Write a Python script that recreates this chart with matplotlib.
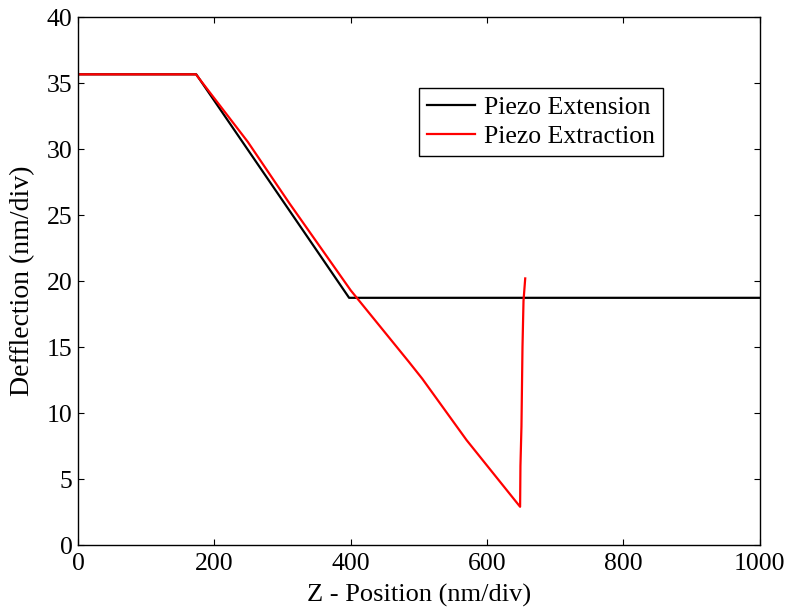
import matplotlib.pyplot as plt

plt.rcParams['font.family'] = ['Liberation Serif', 'DejaVu Serif']

# Piezo extension (approach) curve
ext_z = [0, 173.5, 397.7, 1000]
ext_defl = [35.66, 35.66, 18.73, 18.73]

# Piezo extraction (retract) curve
ret_z = [0, 173, 249, 310, 400, 485, 505, 570, 648.5, 649, 650.5, 652, 653.5, 656]
ret_defl = [35.66, 35.66, 30.55, 25.9, 19.3, 13.9, 12.6, 7.95, 2.9, 6.0, 9.0, 15.0, 18.5, 20.2]

fig = plt.figure(figsize=(7.9, 6.09), dpi=100)
ax = fig.add_axes([0.0987, 0.105, 0.863, 0.867])

ax.plot(ext_z, ext_defl, color='black', lw=1.6, label='Piezo Extension')
ax.plot(ret_z, ret_defl, color='red', lw=1.6, label='Piezo Extraction')

ax.set_xlim(0, 1000)
ax.set_ylim(0, 40)
ax.set_xticks(range(0, 1001, 200))
ax.set_yticks(range(0, 41, 5))
ax.tick_params(direction='in', length=4, width=0.8, labelsize=18.5,
               top=True, right=True)
ax.tick_params(axis='x', pad=6)
ax.tick_params(axis='y', pad=4)
for s in ax.spines.values():
    s.set_linewidth(1.0)

ax.set_xlabel('Z - Position (nm/div)', fontsize=19, labelpad=6)
ax.set_ylabel('Defflection (nm/div)', fontsize=20, labelpad=8)

leg = ax.legend(loc='upper left', bbox_to_anchor=(0.5, 0.865), fontsize=18.5,
                fancybox=False, edgecolor='black', framealpha=1,
                handlelength=1.9, borderpad=0.3, labelspacing=0.25,
                handletextpad=0.35, borderaxespad=0)
leg.get_frame().set_linewidth(1.0)

fig.savefig('out.png', dpi=100)
